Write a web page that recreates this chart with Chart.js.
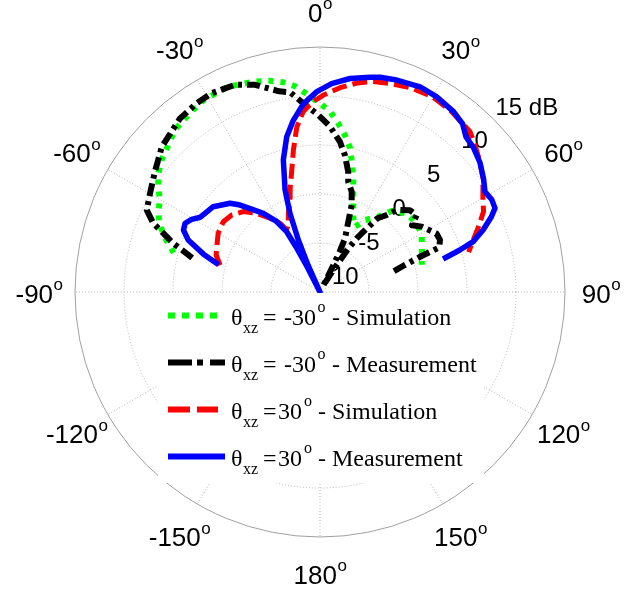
<!DOCTYPE html>
<html>
<head>
<meta charset="utf-8">
<script src="https://cdn.jsdelivr.net/npm/chart.js@4.4.0/dist/chart.umd.min.js"></script>
<style>
  html, body { margin: 0; padding: 0; background: #fff; }
</style>
</head>
<body>
<canvas id="myChart" width="627" height="592"></canvas>
<script>
// radial ticks (dB) and angle ticks (deg)
var ringTicks = [-10, -5, 0, 5, 10, 15];
var angleTicks = [0, 30, 60, 90, 120, 150, 180, -150, -120, -90, -60, -30];

// theta_xz = -30 deg, simulation
var thetaSimNeg = [-75, -70.9, -66.9, -63.6, -60.1, -56.5, -53.7, -50.2, -45.9, -41.8, -38.5, -34.8, -31.3, -27.9, -24.1, -17.6, -13.7, -10.1, -6.9, -3.8, 0, 3.2, 6.2, 9, 11.8, 13.7, 16.3, 17.8, 24.3, 28.2, 32, 37.7, 41.5, 47.8, 54.6, 60.7, 67.6, 75];
var simNeg = [5.45, 6.7, 7.85, 8.4, 8.85, 9.8, 10.45, 11.05, 11.55, 12.2, 12.4, 12.65, 12.9, 12.9, 12.95, 12.5, 12.2, 11.75, 11.15, 10.25, 9.25, 8.45, 7.3, 6.2, 5.0, 3.7, 2.1, 1.1, -1.75, -2.45, -1.35, -0.3, 1.05, 1.95, 2.1, 1.9, 1.25, 0.75];

// theta_xz = -30 deg, measurement
var thetaMeasNeg = [-75, -71.6, -69.5, -67.6, -64.7, -59.9, -53.9, -49.1, -47.5, -42.8, -38.9, -33.2, -28.6, -22.3, -17.4, -15, -11.5, -8.5, -5.1, -0.5, 3.5, 7.6, 10.3, 13.2, 14.4, 17.5, 20, 21.9, 25, 26, 26.5, 27, 31, 33, 34.3, 35.4, 38, 40.9, 43.1, 47.7, 51.5, 54, 57.3, 63.3, 66.5, 69.5, 70.5, 72.6, 75];
var measNeg = [3.5, 5.8, 7.05, 8.4, 9.55, 10.05, 10.85, 11.6, 11.9, 12.3, 12.75, 13.0, 13.1, 12.85, 12.15, 11.6, 10.9, 10.6, 9.35, 8.05, 6.9, 5.45, 4.2, 2.6, 1.6, 0.75, -0.55, -2.25, -3.95, -5.4, -6.9, -9.3, -7.5, -4.8, -3.4, -2.65, -0.45, 0.4, 1.45, 2.4, 2.6, 1.6, 2.35, 3.3, 3.35, 3.0, 1.0, -1.1, -2.6];

// theta_xz = 30 deg, simulation
var thetaSimPos = [-75, -70.4, -66.3, -60, -54, -48.9, -43.7, -38.8, -34.2, -30.2, -28.2, -24.8, -21.9, -18, -15.9, -13.5, -10.6, -8, -5.3, -2, 1, 5.6, 10, 14.2, 18.5, 24, 30, 36, 43.1, 46.5, 50.8, 55, 60.5, 63.8, 67.6, 69, 71.3, 75];
var simPos = [0.55, 1.25, 1.5, 2.0, 2.2, 1.95, 1.35, 0.3, -0.9, -1.9, -2.8, -2.3, -1.35, -0.1, 1.1, 2.45, 4.75, 7.0, 8.5, 9.45, 10.1, 10.95, 11.65, 12.15, 12.45, 12.8, 13.0, 12.8, 12.4, 11.8, 11.05, 10.3, 9.1, 8.6, 7.5, 7.1, 6.5, 5.7];

// theta_xz = 30 deg, measurement
var thetaMeasPos = [-75, -72, -68.5, -65.6, -63, -60.5, -58, -54.7, -51.4, -48.5, -45.4, -42.6, -39.9, -35.8, -31.6, -28.9, -28, -27, -25.5, -24, -22.6, -20.9, -18.9, -15.5, -12.1, -8.9, -5.1, -0.9, 3.2, 8, 13.1, 15.6, 19.9, 26, 30.9, 36.5, 40.3, 43.2, 46.7, 51, 55.3, 58.7, 61.8, 64.4, 66.3, 69.2, 71.8, 73.3, 75];
var measPos = [0.7, 2.5, 4.45, 5.3, 5.45, 5.05, 4.4, 4.15, 3.95, 3.4, 2.9, 2.05, 1.1, -0.1, -1.55, -3.0, -4.8, -7.1, -10, -7, -4.25, -1.4, 1.0, 4.0, 6.2, 7.7, 9.25, 10.45, 11.3, 12.0, 12.5, 12.75, 13.0, 13.3, 13.2, 12.9, 12.5, 11.75, 11.5, 11.0, 10.3, 9.7, 9.9, 9.8, 9.1, 7.8, 6.45, 4.9, 3.0];

var rMin = -10, rMax = 15;
var CX = 320, CY = 292, PX = 245 / (rMax - rMin);   // pixels per dB

function toXY(thetas, vals) {
  return thetas.map(function (t, i) {
    var r = Math.max(vals[i], rMin) - rMin;
    var a = t * Math.PI / 180;
    return { x: r * Math.sin(a), y: r * Math.cos(a) };
  });
}

function line(label, color, dash, width, thetas, vals, order) {
  return {
    label: label, data: toXY(thetas, vals), showLine: true,
    borderColor: color, borderWidth: width, borderDash: dash,
    borderCapStyle: 'butt', borderJoinStyle: 'round',
    pointRadius: 0, fill: false, tension: 0, order: order
  };
}

var polarGrid = {
  id: 'polarGrid',
  beforeDatasetsDraw: function (chart) {
    var ctx = chart.ctx, xs = chart.scales.x, ys = chart.scales.y;
    var cx = xs.getPixelForValue(0), cy = ys.getPixelForValue(0);
    var R = xs.getPixelForValue(rMax - rMin) - cx;
    ctx.save();
    // spokes
    ctx.strokeStyle = '#b4b4b4'; ctx.lineWidth = 1; ctx.setLineDash([1, 2]);
    for (var a = 0; a < 360; a += 30) {
      var rad = a * Math.PI / 180;
      ctx.beginPath(); ctx.moveTo(cx, cy);
      ctx.lineTo(cx + R * Math.sin(rad), cy - R * Math.cos(rad)); ctx.stroke();
    }
    // rings
    ringTicks.forEach(function (t) {
      if (t === rMin || t === rMax) return;
      var r = xs.getPixelForValue(t - rMin) - cx;
      ctx.beginPath(); ctx.arc(cx, cy, r, 0, 2 * Math.PI); ctx.stroke();
    });
    ctx.setLineDash([]);
    ctx.strokeStyle = '#a0a0a0';
    ctx.beginPath(); ctx.arc(cx, cy, R, 0, 2 * Math.PI); ctx.stroke();
    // ring labels
    ctx.fillStyle = '#000'; ctx.font = '24px "Liberation Sans", Arial, sans-serif';
    ctx.textAlign = 'left'; ctx.textBaseline = 'alphabetic';
    ringTicks.forEach(function (t) {
      var r = xs.getPixelForValue(t - rMin) - cx;
      var txt = t === rMax ? t + ' dB' : String(t);
      ctx.fillText(txt, cx + 4 + 0.7 * r, cy - 17 - 0.69 * r + 8.6);
    });
    ctx.restore();
  },
  afterDatasetsDraw: function (chart) {
    var ctx = chart.ctx, xs = chart.scales.x, ys = chart.scales.y;
    var cx = xs.getPixelForValue(0), cy = ys.getPixelForValue(0);
    ctx.save();
    // legend box
    ctx.fillStyle = '#fff';
    ctx.fillRect(158, 293, 326, 190);
    var rows = [
      { color: '#00ff00', dash: [7, 7], len: 50, eq: '-30', eqX: 284, supX: 317.5, restX: 326, rest: ' - Simulation' },
      { color: '#000000', dash: [24, 5, 6, 7], len: 57, eq: '-30', eqX: 284, supX: 317.5, restX: 326, rest: ' - Measurement' },
      { color: '#ff0000', dash: [22, 7], len: 50, eq: '30', eqX: 278, supX: 304, restX: 312, rest: ' - Simulation' },
      { color: '#0000ff', dash: [], len: 57, eq: '30', eqX: 278, supX: 304, restX: 312, rest: ' - Measurement' }
    ];
    rows.forEach(function (row, i) {
      var base = 325 + 47 * i;
      ctx.strokeStyle = row.color; ctx.lineWidth = 6; ctx.setLineDash(row.dash);
      ctx.lineCap = 'butt';
      ctx.beginPath(); ctx.moveTo(168, base - 9.5); ctx.lineTo(168 + row.len, base - 9.5); ctx.stroke();
      ctx.setLineDash([]);
      ctx.fillStyle = '#000'; ctx.textAlign = 'left'; ctx.textBaseline = 'alphabetic';
      ctx.font = '24px "Liberation Serif", "Times New Roman", serif';
      ctx.fillText('\u03b8', 231, base);
      ctx.fillText('=', 263, base);
      ctx.fillText(row.eq, row.eqX, base);
      ctx.fillText(row.rest, row.restX, base);
      ctx.font = '16px "Liberation Serif", "Times New Roman", serif';
      ctx.fillText('xz', 243, base + 8);
      ctx.fillText('o', row.supX, base - 13);
    });
    // angle labels
    angleTicks.forEach(function (a) {
      var rad = a * Math.PI / 180;
      var x = cx + 281 * Math.sin(rad), y = cy - 281 * Math.cos(rad) + 1.5;
      ctx.font = '26px "Liberation Sans", Arial, sans-serif';
      var w1 = ctx.measureText(String(a)).width;
      ctx.font = '17px "Liberation Sans", Arial, sans-serif';
      var w2 = ctx.measureText('o').width;
      var x0 = x - (w1 + w2) / 2;
      ctx.font = '26px "Liberation Sans", Arial, sans-serif';
      ctx.fillText(String(a), x0, y + 9.3);
      ctx.font = '17px "Liberation Sans", Arial, sans-serif';
      ctx.fillText('o', x0 + w1 + 0.5, y - 3.3);
    });
    ctx.restore();
  }
};

var ctx = document.getElementById('myChart').getContext('2d');
var chart = new Chart(ctx, {
  type: 'scatter',
  data: {
    datasets: [
      line('\u03b8xz=-30\u00b0 - Simulation', '#00ff00', [5, 7], 6, thetaSimNeg, simNeg, 4),
      line('\u03b8xz=-30\u00b0 - Measurement', '#000000', [13, 5, 4, 5], 6, thetaMeasNeg, measNeg, 3),
      line('\u03b8xz=30\u00b0 - Simulation', '#ff0000', [15, 6], 5, thetaSimPos, simPos, 2),
      line('\u03b8xz=30\u00b0 - Measurement', '#0000ff', [], 5.5, thetaMeasPos, measPos, 1)
    ]
  },
  options: {
    responsive: false,
    animation: false,
    devicePixelRatio: 1,
    layout: { padding: 0 },
    scales: {
      x: { type: 'linear', min: -CX / PX, max: (627 - CX) / PX, display: false },
      y: { type: 'linear', min: -(592 - CY) / PX, max: CY / PX, display: false }
    },
    plugins: { legend: { display: false }, tooltip: { enabled: false } }
  },
  plugins: [polarGrid]
});
</script>
</body>
</html>
